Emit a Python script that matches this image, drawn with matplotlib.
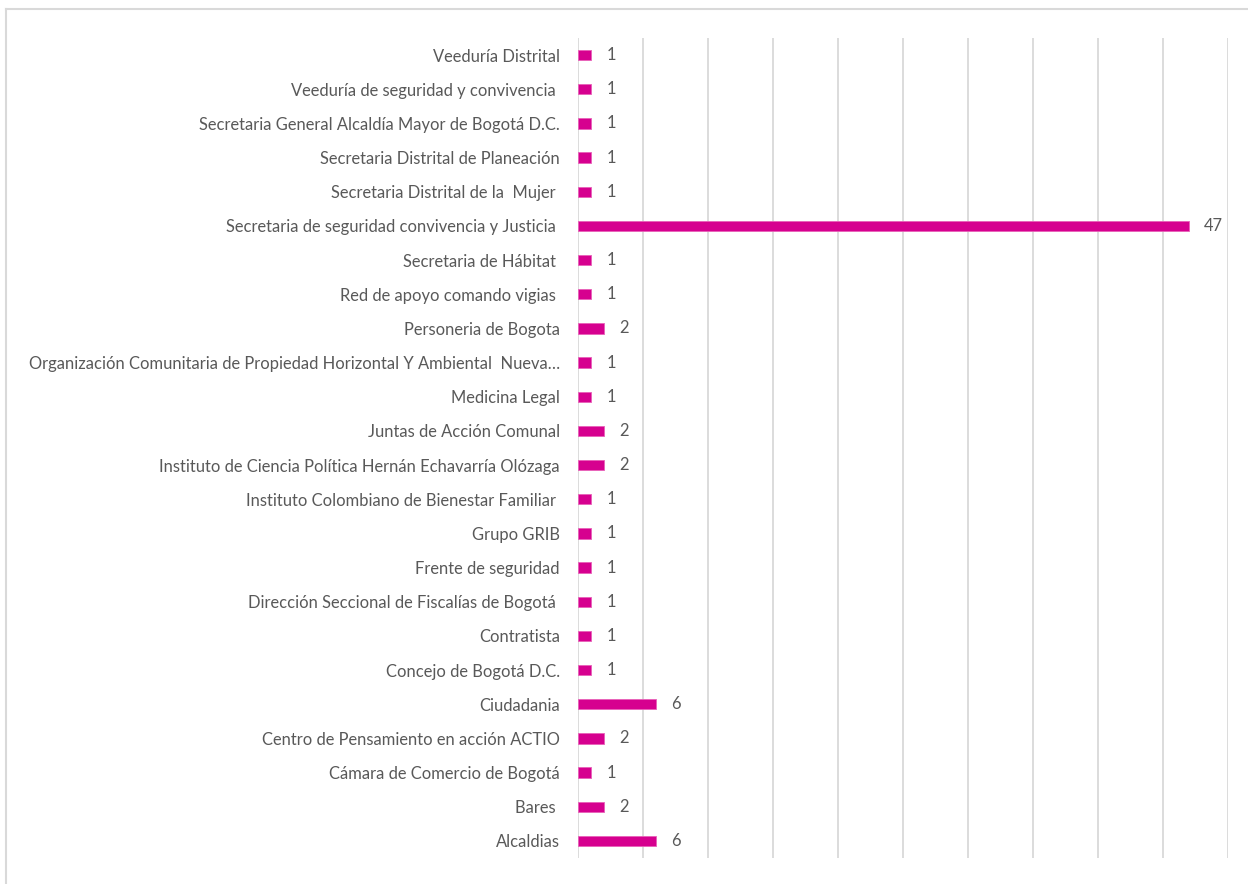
import matplotlib
matplotlib.use("Agg")
import matplotlib.pyplot as plt
from matplotlib.lines import Line2D

categories = [
    "Veeduría Distrital",
    "Veeduría de seguridad y convivencia ",
    "Secretaria General Alcaldía Mayor de Bogotá D.C.",
    "Secretaria Distrital de Planeación",
    "Secretaria Distrital de la  Mujer ",
    "Secretaria de seguridad convivencia y Justicia ",
    "Secretaria de Hábitat ",
    "Red de apoyo comando vigias ",
    "Personeria de Bogota",
    "Organización Comunitaria de Propiedad Horizontal Y Ambiental  Nueva…",
    "Medicina Legal",
    "Juntas de Acción Comunal",
    "Instituto de Ciencia Política Hernán Echavarría Olózaga",
    "Instituto Colombiano de Bienestar Familiar ",
    "Grupo GRIB",
    "Frente de seguridad",
    "Dirección Seccional de Fiscalías de Bogotá ",
    "Contratista",
    "Concejo de Bogotá D.C.",
    "Ciudadania",
    "Centro de Pensamiento en acción ACTIO",
    "Cámara de Comercio de Bogotá",
    "Bares ",
    "Alcaldias",
]
values = [1, 1, 1, 1, 1, 47, 1, 1, 2, 1, 1, 2, 2, 1, 1, 1, 1, 1, 1, 6, 2, 1, 2, 6]

plt.rcParams['font.family'] = ['Lato', 'DejaVu Sans']
text_color = "#595959"
bar_color = "#D6008F"
grid_color = "#D9D9D9"

W, H = 1248, 884
fig = plt.figure(figsize=(W / 100, H / 100), dpi=100)
ax = fig.add_axes([578 / W, 1 - 858 / H, (1228 - 578) / W, (858 - 38) / H])

n = len(categories)
ypos = list(range(n))
ax.barh(ypos, values, height=0.3, color=bar_color, edgecolor="#E860B8", linewidth=0.6, zorder=3)
ax.set_ylim(n - 0.5, -0.5)
ax.set_xlim(0, 50)
ax.set_xticks(range(0, 51, 5))
ax.set_xticklabels([])
ax.tick_params(axis='x', length=0)
ax.set_yticks(ypos)
ax.set_yticklabels(categories, fontsize=11.9, color=text_color)
ax.tick_params(axis='y', length=0, pad=13)
ax.grid(axis='x', color=grid_color, linewidth=1.3, zorder=0)
for s in ax.spines.values():
    s.set_visible(False)

for y, v in zip(ypos, values):
    ax.annotate(str(v), xy=(v, y), xytext=(11, 0), textcoords="offset points",
                va="center", ha="left", fontsize=11.9, color=text_color)

# outer border (left and top)
fig.add_artist(Line2D([5.5 / W, 5.5 / W], [0, 1 - 9 / H], transform=fig.transFigure,
                      color="#D9D9D9", linewidth=1.5))
fig.add_artist(Line2D([5.5 / W, 1], [1 - 9 / H, 1 - 9 / H], transform=fig.transFigure,
                      color="#D9D9D9", linewidth=1.5))

fig.savefig("out.png", dpi=100, facecolor="white")
